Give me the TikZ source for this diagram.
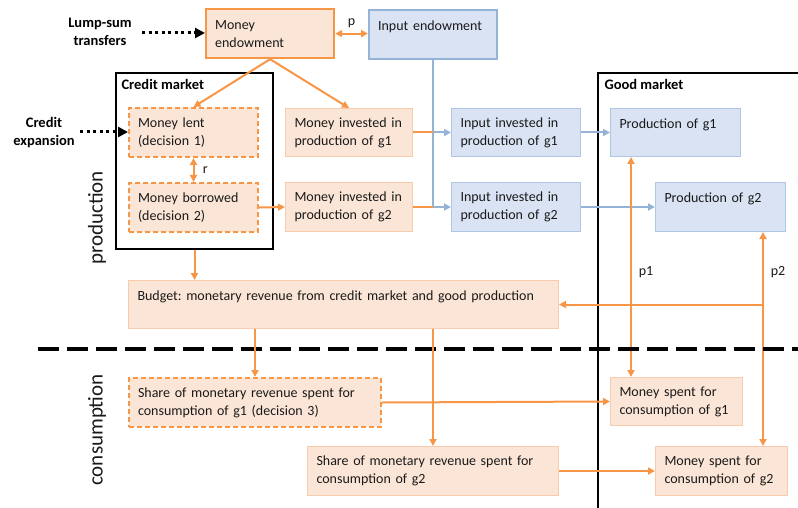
\documentclass[tikz,border=0pt]{standalone}
\usepackage{fontspec}
\setmainfont{Carlito}
\frenchspacing
\usetikzlibrary{arrows.meta}
\definecolor{orfill}{HTML}{FBE5D6}
\definecolor{orline}{HTML}{F79646}
\definecolor{orthin}{HTML}{F8CBAD}
\definecolor{blfill}{HTML}{DAE3F3}
\definecolor{blline}{HTML}{95B3D7}
\definecolor{blthin}{HTML}{AFC6E4}
\definecolor{txt}{HTML}{1A1A1A}
\begin{document}
\begin{tikzpicture}[x=1pt,y=-1pt,
  base/.style={anchor=north west, inner xsep=9pt, inner ysep=0pt, align=left,
    font=\fontsize{14}{18}\selectfont\frenchspacing, text=txt},
  obox/.style={base, fill=orfill, draw=orline, line width=2.2pt},
  othin/.style={base, fill=orfill, draw=orthin, line width=1pt},
  odash/.style={base, fill=orfill, draw=orline, line width=2pt, dash pattern=on 5pt off 3pt},
  bbox/.style={base, fill=blfill, draw=blline, line width=2.2pt},
  bthin/.style={base, fill=blfill, draw=blthin, line width=1pt},
  market/.style={anchor=north west, draw=black, line width=2pt, inner sep=0pt},
  lab/.style={font=\fontsize{14}{18}\selectfont, text=txt},
  blab/.style={font=\bfseries\fontsize{14.5}{18}\selectfont, text=black, align=center},
  phase/.style={font=\fontsize{21}{24}\selectfont, text=txt, rotate=90},
  oline/.style={draw=orline, line width=2pt},
  oarr/.style={oline, -{Triangle[length=7pt,width=7pt]}},
  odbl/.style={oline, {Triangle[length=7pt,width=7pt]}-{Triangle[length=7pt,width=7pt]}},
  bline/.style={draw=blline, line width=2pt},
  barr/.style={bline, -{Triangle[length=7pt,width=7pt]}},
  dotarr/.style={draw=black, line width=3pt, dash pattern=on 3pt off 3.5pt, -{Triangle[length=10pt,width=10pt]}},
  sepline/.style={draw=black, line width=3.5pt, dash pattern=on 21pt off 8pt}
]
\useasboundingbox (0,0) rectangle (798,508);

% markets
\node[market, minimum width=157pt, minimum height=176pt] (cm) at (115,72) {};
\node[blab, anchor=north west] (cml) at (118,76) {Credit market};
\node[market, minimum width=230pt, minimum height=460pt] (gm) at (597,72) {};
\node[blab, anchor=north west] (gml) at (601,76) {Good market};

% boxes
\node[obox, text width=110pt, minimum height=49pt] (me) at (205,8) {Money\\endowment};
\node[bbox, text width=110pt, minimum height=49pt] (ie) at (368,9) {Input endowment\\\mbox{}};
\node[odash, text width=111pt, minimum height=49pt] (ml) at (128,107) {Money lent\\(decision 1)};
\node[odash, text width=111pt, minimum height=49pt] (mb) at (128,182) {Money borrowed\\(decision 2)};
\node[othin, text width=109pt, minimum height=48pt] (mi1) at (285,108) {Money invested in\\production of g1};
\node[othin, text width=109pt, minimum height=49pt] (mi2) at (285,182) {Money invested in\\production of g2};
\node[bthin, text width=111pt, minimum height=48pt] (ii1) at (451,108) {Input invested in\\production of g1};
\node[bthin, text width=111pt, minimum height=49pt] (ii2) at (451,182) {Input invested in\\production of g2};
\node[bthin, text width=112pt, minimum height=48pt] (pg1) at (610,108) {Production of g1\\\mbox{}};
\node[bthin, text width=112pt, minimum height=49pt] (pg2) at (655,182) {Production of g2\\\mbox{}};
\node[othin, text width=412pt, minimum height=48pt] (bud) at (128,280) {Budget: monetary revenue from credit market and good production\\\mbox{}};
\node[odash, text width=234pt, minimum height=49pt] (sh1) at (128,377) {Share of monetary revenue spent for\\consumption of g1 (decision 3)};
\node[othin, text width=233pt, minimum height=49pt] (sh2) at (307,446) {Share of monetary revenue spent for\\consumption of g2};
\node[othin, text width=114pt, minimum height=48pt] (ms1) at (610,377) {Money spent for\\consumption of g1};
\node[othin, text width=114pt, minimum height=49pt] (ms2) at (655,446) {Money spent for\\consumption of g2};

% side labels
\node[blab] (ls) at (100,32) {Lump-sum\\transfers};
\node[blab] (ce) at (44,133) {Credit\\expansion};
\node[phase] (prod) at (97,218) {production};
\node[phase] (cons) at (97,430) {consumption};

% dotted inputs
\coordinate (lsS) at (142,33);
\draw[dotarr] (lsS) -- (lsS -| me.west);
\coordinate (ceS) at (80,132);
\draw[dotarr] (ceS) -- (ceS -| ml.west);

% money endowment flows
\draw[oarr] (me.south) -- (ml.north);
\draw[oarr] (me.south) -- (mi1.north);
\draw[odbl] (me.east) -- (me.east -| ie.west) node[lab, midway, above=2pt] (pl) {p};
\draw[odbl] (ml.south) -- (mb.north) node[lab, midway, right=5pt] (rl) {r};
\draw[oarr] (mb.east) -- (mi2.west);

% input flows
\draw[bline] (ie.south) -- (ie.south |- ii2.west);
\draw[oline] (mi1.east) -- (mi1.east -| ie.south);
\draw[oline] (mi2.east) -- (mi2.east -| ie.south);
\draw[barr] (mi1.east -| ie.south) -- (ii1.west);
\draw[barr] (mi2.east -| ie.south) -- (ii2.west);
\draw[barr] (ii1.east) -- (pg1.west);
\draw[barr] (ii2.east) -- (pg2.west);

% budget
\draw[oarr] (cm.south) -- (cm.south |- bud.north);
\coordinate (p1x) at (631,0);
\coordinate (p2x) at (763,0);
\draw[odbl] (ms1.north -| p1x) -- (pg1.south -| p1x);
\draw[odbl] (ms2.north -| p2x) -- (pg2.south -| p2x);
\node[lab] (p1l) at (646,272) {p1};
\node[lab] (p2l) at (778,272) {p2};
\draw[oarr] (bud.east -| p2x) -- (bud.east);

% separator
\coordinate (sepL) at (38,349);
\coordinate (sepR) at (800,349);
\draw[sepline] (sepL) -- (sepR);

% consumption
\draw[oarr] (sh1.north |- bud.south) -- (sh1.north);
\draw[oarr] (sh2.north |- bud.south) -- (sh2.north);
\draw[oarr] (sh1.east) -- (ms1.west);
\draw[oarr] (sh2.east) -- (ms2.west);
\end{tikzpicture}
\end{document}
